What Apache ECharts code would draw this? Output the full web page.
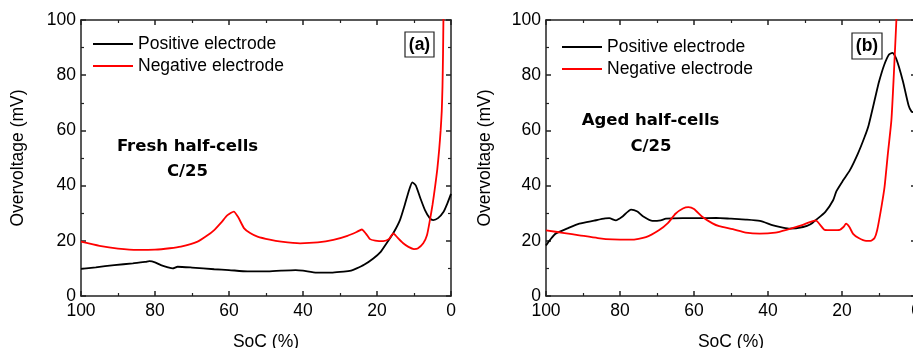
<!DOCTYPE html>
<html><head><meta charset="utf-8">
<script src="https://cdn.jsdelivr.net/npm/echarts@6/dist/echarts.min.js"></script>
<style>html,body{margin:0;padding:0;background:#fff}#c{width:913px;height:348px}</style>
</head><body><div id="c"></div>
<script>
// Data: [SoC %, overvoltage mV]
const freshPositive = [[100,9.8],[96,10.4],[91,11.2],[86,11.8],[82.5,12.4],[81.5,12.6],[80,12.2],[78.4,11.2],[76.5,10.4],[75.2,10.0],[73.9,10.6],[70,10.3],[64,9.7],[60,9.4],[55,8.9],[50,8.9],[45.9,9.2],[42,9.4],[40,9.2],[36.3,8.5],[32,8.5],[29,8.8],[27,9.2],[25.5,10.0],[23.5,11.3],[21,13.6],[19,16],[17.4,19.1],[15.5,23],[13.8,27.5],[12.5,33],[11.3,38.5],[10.45,41.2],[9.5,40],[8.3,35.5],[7,31],[5.8,28.3],[4.8,27.5],[3.5,28.2],[2,30.5],[1,33.5],[0,37]];
const freshNegative = [[100,19.7],[95,18.2],[90,17.2],[84.7,16.7],[80,16.8],[76,17.3],[73,17.9],[68.5,19.7],[66,21.8],[64,23.9],[62,26.8],[60.4,29.3],[58.7,30.6],[57.5,28.5],[55.9,24.5],[54.3,22.8],[52.3,21.5],[49,20.4],[45.9,19.7],[40.8,19.1],[36,19.4],[31.8,20.3],[28,21.8],[25.5,23.2],[24.1,24.1],[23,22.6],[21.9,20.6],[20.5,20.1],[18.3,19.9],[16.8,20.6],[15.6,22.7],[14.5,21.2],[13,19.2],[11.5,17.8],[10,17.0],[9,17.2],[7.5,19.1],[6.5,22],[5.7,27.5],[5.0,33],[4.3,39.6],[3.7,46],[3.2,53],[2.8,60],[2.5,67],[2.3,76],[2.15,88],[2.05,100],[2.0,106]];
const agedPositive = [[100,18.3],[98.5,21],[97.4,22.6],[94,24.6],[91,26.2],[87,27.3],[84,28.1],[82.9,28.2],[81.1,27.4],[79.5,28.6],[77,31.3],[75.3,30.6],[73.9,29],[71.2,27.2],[69,27.4],[67.6,28],[63,28.2],[59.5,28.2],[54,28.3],[50,28.0],[46,27.7],[42.2,27.2],[38.6,25.6],[36,24.8],[34.1,24.4],[30.5,25],[28.5,26],[26.9,27.7],[24.5,30.5],[22.4,34.7],[21.5,38],[19.7,41.9],[17.9,45.5],[15.7,51.6],[13.9,57.6],[12.8,61.9],[11,72],[10,77.6],[8.6,83.7],[7.3,87.5],[6.4,88.1],[5.5,86.5],[4.6,83],[3.5,77.6],[2,69],[1.2,66.8],[0.5,66.5],[0,66.4]];
const agedNegative = [[100,23.8],[95,22.8],[91,22],[86,21],[82,20.5],[77,20.4],[73,21.3],[69.5,23.8],[67,26.5],[65,29.8],[63,31.7],[61.5,32.2],[60,31.5],[57.7,28.6],[55,26.3],[53.2,25.3],[49.5,24.2],[46,23],[42.2,22.6],[38,23],[35,24],[31,25.6],[28.7,26.8],[27.1,27.4],[25.8,25.6],[24.7,24],[22.5,23.9],[20.6,24],[19.6,25],[18.9,26.2],[18,25],[17,22.5],[15.5,21],[13.5,20],[12.3,20],[11.2,21],[10.5,23.8],[9.35,32.2],[8.5,39.5],[7.6,51.6],[6.65,63.7],[6.0,80],[5.3,100],[5.2,103]];
const seriesNames = ['Positive electrode','Negative electrode'];
const panelLabels = ['(a)','(b)'];
const panelTitles = [['Fresh half-cells','C/25'],['Aged half-cells','C/25']];
const xTitle = 'SoC (%)';
const yTitle = 'Overvoltage (mV)';

const FONT = '"Liberation Sans", Arial, sans-serif';
const axisLineStyle = {color:'#222', width:1.5};
function xAx(grid, pos, showLabel){
  return {type:'value', gridIndex:grid, position:pos, min:0, max:100, interval:20, inverse:true,
    axisLine:{show:true, onZero:false, lineStyle:axisLineStyle},
    axisTick:{show:true, inside:true, length:5, lineStyle:axisLineStyle},
    minorTick:{show:true, splitNumber:2, length:3, lineStyle:{color:'#222', width:1.2}},
    splitLine:{show:false},
    axisLabel:{show:showLabel, color:'#000', fontSize:17.5, fontFamily:FONT, margin:6},
    name: showLabel ? xTitle : '', nameLocation:'middle', nameGap:37,
    nameTextStyle:{color:'#000', fontSize:17.5, fontFamily:FONT}};
}
function yAx(grid, pos, showLabel){
  return {type:'value', gridIndex:grid, position:pos, min:0, max:100, interval:20,
    axisLine:{show:true, onZero:false, lineStyle:axisLineStyle},
    axisTick:{show:true, inside:true, length:5, lineStyle:axisLineStyle},
    minorTick:{show:true, splitNumber:2, length:3, lineStyle:{color:'#222', width:1.2}},
    splitLine:{show:false},
    axisLabel:{show:showLabel, color:'#000', fontSize:17.5, fontFamily:FONT, margin:5},
    name: showLabel ? yTitle : '', nameLocation:'middle', nameGap: grid===0 ? 54 : 52,
    nameTextStyle:{color:'#000', fontSize:17.5, fontFamily:FONT}};
}
function line(name, data, color, xi, yi){
  return {type:'line', name, data, xAxisIndex:xi, yAxisIndex:yi, smooth:0.2, symbol:'none', clip:true,
    itemStyle:{color}, lineStyle:{color, width:1.8}};
}
const titleFont = 'bold 16.5px "DejaVu Sans", sans-serif';
const labelFont = 'bold 17.5px "Liberation Sans", Arial, sans-serif';
const chart = echarts.init(document.getElementById('c'), null, {renderer:'canvas'});
chart.setOption({
  animation:false,
  backgroundColor:'#fff',
  grid:[{left:81, top:20, width:370, height:276, outerBoundsMode:'none', containLabel:false},
        {left:546, top:20, width:370, height:276, outerBoundsMode:'none', containLabel:false}],
  xAxis:[xAx(0,'bottom',true), xAx(0,'top',false), xAx(1,'bottom',true), xAx(1,'top',false)],
  yAxis:[yAx(0,'left',true), yAx(0,'right',false), yAx(1,'left',true), yAx(1,'right',false)],
  legend:[
    {left:93, top:34, padding:0, orient:'vertical', icon:'rect', itemWidth:40, itemHeight:2, itemGap:2,
     textStyle:{fontSize:17.5, fontFamily:FONT, color:'#000', lineHeight:20}, data:seriesNames, selectedMode:false},
    {left:562, top:37, padding:0, orient:'vertical', icon:'rect', itemWidth:40, itemHeight:2, itemGap:2,
     textStyle:{fontSize:17.5, fontFamily:FONT, color:'#000', lineHeight:20}, data:seriesNames, selectedMode:false}
  ],
  series:[
    line(seriesNames[0], freshPositive, '#000', 0, 0),
    line(seriesNames[1], freshNegative, '#ff0000', 0, 0),
    line(seriesNames[0], agedPositive, '#000', 2, 2),
    line(seriesNames[1], agedNegative, '#ff0000', 2, 2)
  ],
  graphic:[
    {type:'rect', shape:{x:405, y:32, width:29, height:25}, style:{fill:'#fff', stroke:'#222', lineWidth:1.2}, z:10},
    {type:'text', x:419.5, y:45, style:{text:panelLabels[0], font:labelFont, fill:'#000', align:'center', verticalAlign:'middle'}, z:11},
    {type:'rect', shape:{x:852, y:33, width:30, height:26}, style:{fill:'#fff', stroke:'#222', lineWidth:1.2}, z:10},
    {type:'text', x:867, y:46.5, style:{text:panelLabels[1], font:labelFont, fill:'#000', align:'center', verticalAlign:'middle'}, z:11},
    {type:'text', x:187.5, y:147, style:{text:panelTitles[0][0], font:titleFont, fill:'#000', align:'center', verticalAlign:'middle'}},
    {type:'text', x:187.5, y:172, style:{text:panelTitles[0][1], font:titleFont, fill:'#000', align:'center', verticalAlign:'middle'}},
    {type:'text', x:650.5, y:121, style:{text:panelTitles[1][0], font:titleFont, fill:'#000', align:'center', verticalAlign:'middle'}},
    {type:'text', x:651, y:147, style:{text:panelTitles[1][1], font:titleFont, fill:'#000', align:'center', verticalAlign:'middle'}}
  ]
});
</script></body></html>
